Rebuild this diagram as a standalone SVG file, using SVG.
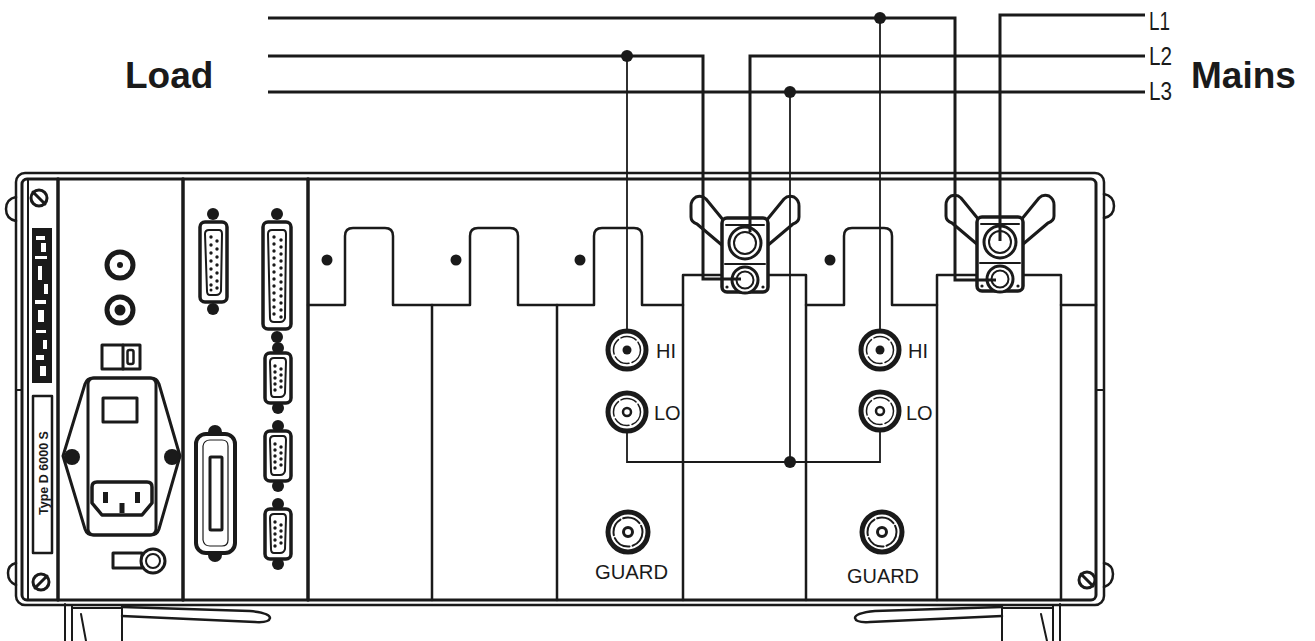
<svg xmlns="http://www.w3.org/2000/svg" width="1315" height="641" viewBox="0 0 1315 641">
<style>
.ln{fill:none;stroke:#1a1a1a;stroke-linecap:round;stroke-linejoin:round}
.wf{fill:#fff;stroke:#1a1a1a;stroke-linejoin:round}
.blk{fill:#1a1a1a}
.pin{fill:#1a1a1a}
.wire{fill:none;stroke:#1a1a1a;stroke-width:3;stroke-linejoin:miter}
.sig{fill:none;stroke:#1a1a1a;stroke-width:1.8}
.dot{fill:#1a1a1a}
text{font-family:"Liberation Sans",Arial,Helvetica,sans-serif;fill:#1a1a1a}
.lbl{font-size:20px}
.big{font-size:37px;font-weight:bold}
.ph{font-size:25px}
</style>
<defs>
  <!-- slotted screw -->
  <g id="screw-a"><circle r="8" class="wf" stroke-width="3"/><line x1="-6" y1="-6" x2="6" y2="6" class="ln" stroke-width="3"/></g>
  <g id="screw-b"><circle r="8" class="wf" stroke-width="3"/><line x1="-6" y1="6" x2="6" y2="-6" class="ln" stroke-width="3"/></g>
  <!-- BNC sockets -->
  <g id="bnc-hi"><circle r="19" class="wf" stroke-width="5"/><circle r="13.5" class="ln" stroke-width="1.5" stroke-dasharray="16 3"/><circle r="4.5" class="blk"/></g>
  <g id="bnc-lo"><circle r="19" class="wf" stroke-width="5"/><circle r="13.5" class="ln" stroke-width="1.5" stroke-dasharray="16 3"/><circle r="4" class="wf" stroke-width="2.5"/></g>
  <g id="bnc-guard"><circle r="20" class="wf" stroke-width="5"/><circle r="14.5" class="ln" stroke-width="2" stroke-dasharray="18 3"/><circle r="4.5" class="wf" stroke-width="3"/></g>
  <!-- 9-pin sub-D, vertical -->
  <g id="db9">
    <circle cy="-30" r="6" class="blk"/><circle cy="30" r="6" class="blk"/>
    <rect x="-13" y="-25" width="26" height="50" rx="5" class="wf" stroke-width="3.5"/>
    <path d="M-8,-16 Q-8,-20 -4,-20 H5 Q8,-20 8,-16 L7,15 Q6,19 2,19 H-4 Q-7,19 -7,15 Z" class="wf" stroke-width="2"/>
    <g class="pin"><circle cx="-3" cy="-12" r="1.7"/><circle cx="-3" cy="-6" r="1.7"/><circle cx="-3" cy="0" r="1.7"/><circle cx="-3" cy="6" r="1.7"/><circle cx="-3" cy="12" r="1.7"/>
    <circle cx="3" cy="-9" r="1.7"/><circle cx="3" cy="-3" r="1.7"/><circle cx="3" cy="3" r="1.7"/><circle cx="3" cy="9" r="1.7"/></g>
  </g>
  <!-- mains clamp terminal with wing nut -->
  <g id="terminal">
    <path class="ln" stroke-width="3" d="M-21,-22 L-39,-44 Q-43,-48 -49,-46 Q-54,-43 -54,-37 L-54,-26 Q-54,-21 -48,-19 L-22,3"/>
    <path class="ln" stroke-width="3" d="M21,-22 L39,-44 Q43,-48 49,-46 Q54,-43 54,-37 L54,-26 Q54,-21 48,-19 L22,3"/>
    <rect x="-23" y="-25" width="46" height="74" rx="5" class="wf" stroke-width="3.5"/>
    <line x1="-19" y1="-18" x2="19" y2="-18" class="ln" stroke-width="2"/>
    <circle r="16" class="wf" stroke-width="3"/>
    <circle r="11" class="ln" stroke-width="2"/>
    <line x1="-20" y1="21" x2="20" y2="21" class="ln" stroke-width="2"/>
    <circle cy="37" r="13" class="wf" stroke-width="3"/>
    <circle cy="37" r="8.5" class="ln" stroke-width="2"/>
    <circle cx="-18" cy="44" r="1.6" class="blk"/><circle cx="18" cy="44" r="1.6" class="blk"/>
  </g>
</defs>

<rect width="1315" height="641" fill="#fff"/>

<!-- chassis frame, handles and feet -->
<g id="chassis">
  <rect x="16" y="173" width="1088" height="432" rx="9" class="ln" stroke-width="2.5"/>
  <rect x="22" y="179" width="1074" height="421" rx="5" class="ln" stroke-width="3"/>
  <path class="ln" stroke-width="2.5" d="M16,197 Q6,199 6,209 Q6,219 16,221 M16,563 Q8,565 8,573 Q8,582 16,585 M1104,194 Q1114,196 1114,206 Q1114,216 1104,218 M1104,563 Q1113,565 1113,574 Q1113,584 1104,587"/>
  <path class="ln" stroke-width="2" d="M1096,390 H1104 M16,390 H22"/>
  <path class="ln" stroke-width="2" d="M65,604 V641 M72,606 V641 M72,608 H122 V641 M81,614 L86,641"/>
  <path class="ln" stroke-width="2.5" d="M122,607 L250,611 Q270,613 270,618 Q269,623 255,622 L122,616"/>
  <path class="ln" stroke-width="2" d="M1060,604 V641 M1053,606 V641 M1053,608 H1002 V641 M1041,614 L1047,641"/>
  <path class="ln" stroke-width="2.5" d="M1002,607 L875,611 Q855,613 855,618 Q856,623 870,622 L1002,616"/>
</g>

<!-- left side plate with rating labels -->
<g id="side-plate">
  <line x1="28" y1="179" x2="28" y2="600" class="ln" stroke-width="2"/>
  <use href="#screw-a" x="39" y="198"/>
  <use href="#screw-b" x="41" y="582"/>
  <rect x="32" y="228" width="20" height="155" class="blk"/>
  <g fill="#fff">
    <rect x="36" y="236" width="9" height="4"/><rect x="41" y="243" width="5" height="9"/><rect x="35" y="256" width="12" height="3"/>
    <rect x="38" y="266" width="4" height="14"/><rect x="44" y="284" width="4" height="10"/><rect x="35" y="300" width="11" height="4"/>
    <rect x="38" y="310" width="6" height="12"/><rect x="36" y="330" width="10" height="3"/><rect x="43" y="340" width="4" height="9"/>
    <rect x="36" y="355" width="8" height="5"/><rect x="40" y="366" width="6" height="10"/>
  </g>
  <rect x="33" y="396" width="19" height="157" class="wf" stroke-width="2.5"/>
  <text transform="translate(48,473) rotate(-90)" text-anchor="middle" font-size="12.5" font-weight="bold">Type D 6000 S</text>
</g>

<!-- power supply module -->
<g id="power-module">
  <line x1="58" y1="179" x2="58" y2="600" class="ln" stroke-width="3.5"/>
  <circle cx="120" cy="265" r="13" class="wf" stroke-width="5"/><circle cx="120" cy="265" r="3" class="blk"/>
  <circle cx="120" cy="310" r="13" class="wf" stroke-width="5"/><circle cx="120" cy="310" r="5.5" class="blk"/>
  <rect x="102" y="345" width="38" height="24" class="ln" stroke-width="3"/>
  <line x1="123" y1="345" x2="123" y2="369" class="ln" stroke-width="3"/>
  <rect x="127.5" y="350" width="6" height="14" rx="2" class="ln" stroke-width="2.5"/>
  <path class="ln" stroke-width="3" d="M93,378 H151 Q157,378 159,384 L180,456 L159,529 Q157,535 151,535 H93 Q87,535 85,529 L63,456 L85,384 Q87,378 93,378 Z"/>
  <rect x="88" y="378" width="68" height="157" rx="6" class="ln" stroke-width="3"/>
  <circle cx="72" cy="457" r="8" class="blk"/><circle cx="172" cy="457" r="8" class="blk"/>
  <rect x="103" y="398" width="34" height="24" class="ln" stroke-width="3"/>
  <path class="wf" stroke-width="3.5" d="M92,487 Q92,482 97,482 H147 Q152,482 152,487 V503 L142,515 H102 L92,503 Z"/>
  <rect x="103" y="492" width="5" height="11" class="blk"/><rect x="135" y="492" width="5" height="11" class="blk"/><rect x="119.5" y="503" width="5" height="10" class="blk"/>
  <rect x="113" y="553" width="29" height="15" class="ln" stroke-width="3"/>
  <circle cx="153" cy="561" r="12" class="wf" stroke-width="3"/><circle cx="153" cy="561" r="7" class="ln" stroke-width="2"/>
</g>

<!-- interface module: sub-D and Centronics sockets -->
<g id="interface-module">
  <line x1="183" y1="179" x2="183" y2="600" class="ln" stroke-width="3.5"/>
  <g id="db15">
    <circle cx="213" cy="214" r="6" class="blk"/><circle cx="213" cy="309" r="6" class="blk"/>
    <rect x="200" y="222" width="27" height="80" rx="5" class="wf" stroke-width="3.5"/>
    <path d="M205,234 Q205,230 209,230 H219 Q222,230 222,234 L221,291 Q220,295 216,295 H210 Q207,295 207,291 Z" class="wf" stroke-width="2"/>
    <g class="pin"><circle cx="211" cy="237" r="1.7"/><circle cx="211" cy="245" r="1.7"/><circle cx="211" cy="253" r="1.7"/><circle cx="211" cy="261" r="1.7"/><circle cx="211" cy="269" r="1.7"/><circle cx="211" cy="277" r="1.7"/><circle cx="211" cy="285" r="1.7"/><circle cx="211" cy="290" r="1.5"/>
    <circle cx="217" cy="241" r="1.7"/><circle cx="217" cy="249" r="1.7"/><circle cx="217" cy="257" r="1.7"/><circle cx="217" cy="265" r="1.7"/><circle cx="217" cy="273" r="1.7"/><circle cx="217" cy="281" r="1.7"/><circle cx="217" cy="288" r="1.7"/></g>
  </g>
  <g id="db25">
    <circle cx="277" cy="214" r="6" class="blk"/><circle cx="277" cy="337" r="6" class="blk"/>
    <rect x="263" y="222" width="28" height="107" rx="5" class="wf" stroke-width="3.5"/>
    <path d="M268,234 Q268,230 272,230 H283 Q286,230 286,234 L285,318 Q284,322 280,322 H274 Q270,322 270,318 Z" class="wf" stroke-width="2"/>
    <g class="pin"><circle cx="274" cy="237" r="1.7"/><circle cx="274" cy="244" r="1.7"/><circle cx="274" cy="251" r="1.7"/><circle cx="274" cy="258" r="1.7"/><circle cx="274" cy="265" r="1.7"/><circle cx="274" cy="272" r="1.7"/><circle cx="274" cy="279" r="1.7"/><circle cx="274" cy="286" r="1.7"/><circle cx="274" cy="293" r="1.7"/><circle cx="274" cy="300" r="1.7"/><circle cx="274" cy="307" r="1.7"/><circle cx="274" cy="314" r="1.7"/>
    <circle cx="281" cy="240" r="1.7"/><circle cx="281" cy="247" r="1.7"/><circle cx="281" cy="254" r="1.7"/><circle cx="281" cy="261" r="1.7"/><circle cx="281" cy="268" r="1.7"/><circle cx="281" cy="275" r="1.7"/><circle cx="281" cy="282" r="1.7"/><circle cx="281" cy="289" r="1.7"/><circle cx="281" cy="296" r="1.7"/><circle cx="281" cy="303" r="1.7"/><circle cx="281" cy="310" r="1.7"/><circle cx="281" cy="317" r="1.7"/></g>
  </g>
  <use href="#db9" x="278" y="378"/>
  <use href="#db9" x="278" y="456"/>
  <use href="#db9" x="278" y="534"/>
  <g id="centronics">
    <circle cx="215" cy="432" r="7" class="blk"/><circle cx="215" cy="555" r="7" class="blk"/>
    <rect x="196" y="434" width="39" height="119" rx="10" class="wf" stroke-width="4"/>
    <path d="M203,446 Q204,440 210,440 H222 Q228,440 228,446 V540 Q228,546 222,546 H210 Q204,546 203,540 Z" class="ln" stroke-width="1.2"/>
    <rect x="210" y="457" width="12" height="73" rx="1" class="ln" stroke-width="3"/>
  </g>
</g>

<!-- measurement slots -->
<g id="slots">
  <line x1="308" y1="179" x2="308" y2="600" class="ln" stroke-width="3.5"/>
  <path class="ln" stroke-width="2.5" d="M308,305 H345 V236 Q345,228 353,228 H385 Q393,228 393,236 V305 H470 V236 Q470,228 478,228 H510 Q518,228 518,236 V305 H594 V236 Q594,228 602,228 H634 Q642,228 642,236 V305 H683 V275 H806 V305 H844 V236 Q844,228 852,228 H884 Q892,228 892,236 V305 H937 V275 H1061 V305 H1096"/>
  <path class="ln" stroke-width="2.5" d="M432,305 V600 M557,305 V600 M683,305 V600 M806,305 V600 M937,305 V600 M1061,305 V600"/>
  <circle cx="327" cy="260" r="5.5" class="blk"/><circle cx="456" cy="260" r="5.5" class="blk"/><circle cx="580" cy="260" r="5.5" class="blk"/><circle cx="830" cy="260" r="5.5" class="blk"/>
  <use href="#screw-a" x="1087" y="580"/>
</g>

<!-- current terminals -->
<g id="terminal-1"><use href="#terminal" x="745" y="243"/></g>
<g id="terminal-2"><use href="#terminal" x="1000" y="242"/></g>

<!-- wiring -->
<g id="connectors">
  <path class="wire" d="M268,18 H955 V280 H996"/>
  <path class="wire" d="M1145,15 H1000 V241"/>
  <path class="wire" d="M268,56 H703 V279 H741"/>
  <path class="wire" d="M1145,56 H750 V232"/>
  <path class="wire" d="M268,92 H1145"/>
  <path class="sig" d="M627,56 V350"/>
  <path class="sig" d="M880,18 V350"/>
  <path class="sig" d="M627,412 V462 H880 V412"/>
  <path class="sig" d="M790,92 V462"/>
  <circle cx="627" cy="56" r="6" class="dot"/>
  <circle cx="880" cy="18" r="6" class="dot"/>
  <circle cx="790" cy="92" r="6" class="dot"/>
  <circle cx="790" cy="462" r="6" class="dot"/>
</g>

<!-- input channel 1 -->
<g id="channel-1">
  <use href="#bnc-hi" x="627" y="350"/>
  <use href="#bnc-lo" x="627" y="412"/>
  <use href="#bnc-guard" x="628" y="532"/>
  <text class="lbl" x="656" y="358">HI</text>
  <text class="lbl" x="654" y="420">LO</text>
  <text class="lbl" x="595" y="579" textLength="73" lengthAdjust="spacingAndGlyphs">GUARD</text>
</g>

<!-- input channel 2 -->
<g id="channel-2">
  <use href="#bnc-hi" x="880" y="350"/>
  <use href="#bnc-lo" x="880" y="411"/>
  <use href="#bnc-guard" x="882" y="532"/>
  <text class="lbl" x="908" y="358">HI</text>
  <text class="lbl" x="906" y="420">LO</text>
  <text class="lbl" x="847" y="583" textLength="72" lengthAdjust="spacingAndGlyphs">GUARD</text>
</g>

<!-- line labels -->
<g id="labels">
  <text class="big" x="125" y="88">Load</text>
  <text class="big" x="1191" y="88">Mains</text>
  <text class="ph" x="1149" y="30" textLength="21" lengthAdjust="spacingAndGlyphs">L1</text>
  <text class="ph" x="1149" y="65" textLength="23" lengthAdjust="spacingAndGlyphs">L2</text>
  <text class="ph" x="1149" y="100" textLength="23" lengthAdjust="spacingAndGlyphs">L3</text>
</g>
</svg>
